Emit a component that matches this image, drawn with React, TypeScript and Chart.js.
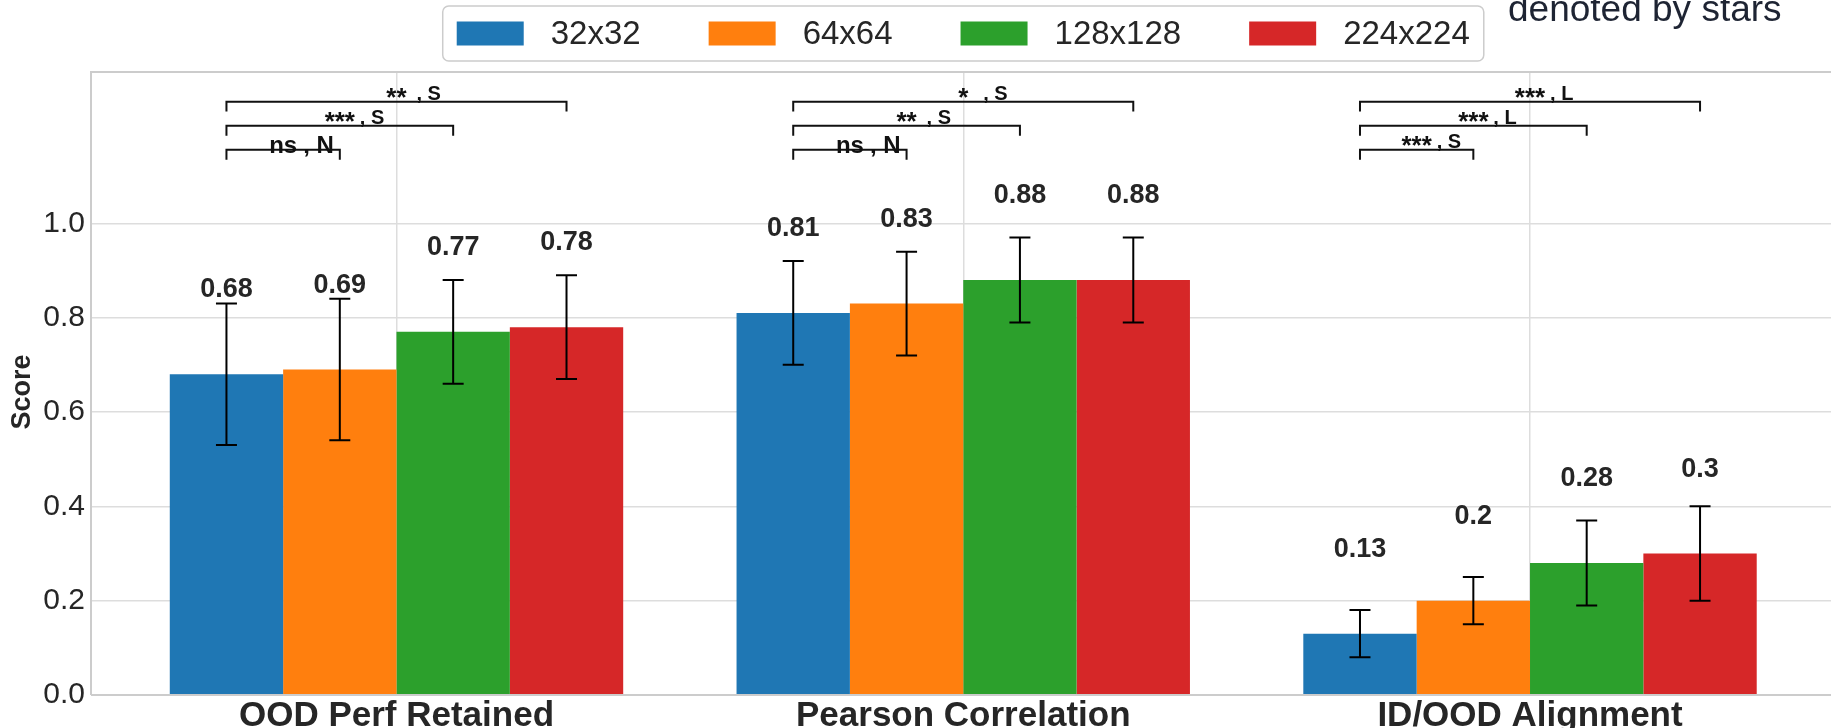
import React, { useEffect, useRef } from 'react';
import { Chart, registerables } from 'chart.js';

Chart.register(...registerables);

// Metric groups along the x axis
const categories = ['OOD Perf Retained', 'Pearson Correlation', 'ID/OOD Alignment'];
// Input resolutions (one bar series each)
const resolutions = ['32x32', '64x64', '128x128', '224x224'];

// Mean score per metric for each resolution
const score32 = [0.68, 0.81, 0.13];
const score64 = [0.69, 0.83, 0.2];
const score128 = [0.77, 0.88, 0.28];
const score224 = [0.78, 0.88, 0.3];

// Standard deviation per metric for each resolution
const std32 = [0.15, 0.11, 0.05];
const std64 = [0.15, 0.11, 0.05];
const std128 = [0.11, 0.09, 0.09];
const std224 = [0.11, 0.09, 0.1];

// Y axis tick values
const yTicks = [0, 0.2, 0.4, 0.6, 0.8, 1.0];

// Significance of 64/128/224 versus 32x32, per metric
const sigStars = [
  ['ns', '***', '**'],
  ['ns', '**', '*'],
  ['***', '***', '***'],
];
// Effect size letter (N = negligible, S = small, L = large)
const sigEffect = [
  ['N', 'S', 'S'],
  ['N', 'S', 'S'],
  ['S', 'L', 'L'],
];

const seriesScores = [score32, score64, score128, score224];
const seriesStd = [std32, std64, std128, std224];
const seriesColors = ['#1f77b4', '#ff7f0e', '#2ca02c', '#d62728'];

const FONT = '"Liberation Sans", Arial, Helvetica, sans-serif';
const TEXT = '#262626';
const SPINE = '#cccccc';
const GRID = '#dddddd';

const Y_MAX = 1.321;
const X_MIN = -0.539;
const X_MAX = 2.539;

const LABEL_LIFT = 0.163;
const BRACKET_BASE = 1.156;
const BRACKET_STEP = 0.051;
const BRACKET_DROP = 0.021;
const CAP = 10.5;

const overlayPlugin = {
  id: 'overlay',
  beforeDraw(chart: any) {
    const { ctx, width, height } = chart;
    ctx.save();
    ctx.fillStyle = '#ffffff';
    ctx.fillRect(0, 0, width, height);
    ctx.restore();
  },
  afterDatasetsDraw(chart: any) {
    const { ctx, chartArea: a } = chart;
    const y = chart.scales.y;

    // frame
    ctx.save();
    ctx.strokeStyle = SPINE;
    ctx.lineWidth = 2;
    ctx.beginPath();
    ctx.moveTo(a.left, a.bottom);
    ctx.lineTo(a.left, a.top);
    ctx.lineTo(a.right, a.top);
    ctx.lineTo(a.right, a.bottom);
    ctx.lineTo(a.left, a.bottom);
    ctx.stroke();
    ctx.restore();

    // y axis title
    ctx.save();
    ctx.translate(23, 392);
    ctx.rotate(-Math.PI / 2);
    ctx.fillStyle = TEXT;
    ctx.font = `bold 27px ${FONT}`;
    ctx.textAlign = 'center';
    ctx.textBaseline = 'middle';
    ctx.fillText('Score', 0, 0);
    ctx.restore();

    // error bars and value labels
    ctx.save();
    ctx.strokeStyle = '#000000';
    ctx.lineWidth = 2;
    ctx.fillStyle = TEXT;
    ctx.font = `bold 27px ${FONT}`;
    ctx.textAlign = 'center';
    ctx.textBaseline = 'alphabetic';
    chart.data.datasets.forEach((_: any, di: number) => {
      const meta = chart.getDatasetMeta(di);
      meta.data.forEach((bar: any, i: number) => {
        const v = seriesScores[di][i];
        const e = seriesStd[di][i];
        const x = bar.x;
        const yt = y.getPixelForValue(v + e);
        const yb = y.getPixelForValue(v - e);
        ctx.beginPath();
        ctx.moveTo(x, yt);
        ctx.lineTo(x, yb);
        ctx.moveTo(x - CAP, yt);
        ctx.lineTo(x + CAP, yt);
        ctx.moveTo(x - CAP, yb);
        ctx.lineTo(x + CAP, yb);
        ctx.stroke();
        ctx.fillText(`${v}`, x, y.getPixelForValue(v + LABEL_LIFT));
      });
    });
    ctx.restore();

    // significance brackets against the 32x32 bar
    ctx.save();
    ctx.strokeStyle = '#111111';
    ctx.fillStyle = '#111111';
    ctx.lineWidth = 2;
    const base = chart.getDatasetMeta(0);
    categories.forEach((_, ci) => {
      const x0 = base.data[ci].x;
      sigStars[ci].forEach((stars, k) => {
        const x1 = chart.getDatasetMeta(k + 1).data[ci].x;
        const by = y.getPixelForValue(BRACKET_BASE + k * BRACKET_STEP);
        const drop = y.getPixelForValue(BRACKET_BASE + k * BRACKET_STEP - BRACKET_DROP) - by;
        ctx.beginPath();
        ctx.moveTo(x0, by + drop);
        ctx.lineTo(x0, by);
        ctx.lineTo(x1, by);
        ctx.lineTo(x1, by + drop);
        ctx.stroke();

        const cx = (x0 + x1) / 2;
        const isNs = stars === 'ns';
        ctx.textBaseline = 'alphabetic';
        ctx.textAlign = 'center';
        ctx.font = `bold ${isNs ? 24 : 26}px ${FONT}`;
        ctx.fillText(stars, cx, by + (isNs ? 3 : 4));
        ctx.textAlign = 'left';
        ctx.font = `bold ${isNs ? 24 : 20}px ${FONT}`;
        ctx.fillText(`, ${sigEffect[ci][k]}`, cx + 20, by + (isNs ? 3 : -2));
      });
    });
    ctx.restore();
  },
  afterDraw(chart: any) {
    const { ctx, chartArea: a } = chart;
    ctx.save();

    // legend
    const fontSize = 33;
    const pad = 14;
    const handleW = 67;
    const handleH = 24;
    const textPad = 27;
    const colGap = 68;
    ctx.font = `${fontSize}px ${FONT}`;
    const widths = resolutions.map((r) => ctx.measureText(r).width);
    const boxW =
      2 * pad +
      resolutions.length * (handleW + textPad) +
      widths.reduce((s, w) => s + w, 0) +
      (resolutions.length - 1) * colGap;
    const boxH = 55;
    const boxL = (a.left + a.right) / 2 - boxW / 2;
    const boxT = 6;
    ctx.fillStyle = 'rgba(255,255,255,0.9)';
    ctx.strokeStyle = '#cccccc';
    ctx.lineWidth = 1.5;
    ctx.beginPath();
    ctx.roundRect(boxL, boxT, boxW, boxH, 6);
    ctx.fill();
    ctx.stroke();

    const cy = boxT + boxH / 2;
    let x = boxL + pad;
    ctx.textBaseline = 'middle';
    ctx.textAlign = 'left';
    resolutions.forEach((r, i) => {
      ctx.fillStyle = seriesColors[i];
      ctx.fillRect(x, cy - handleH / 2, handleW, handleH);
      ctx.fillStyle = TEXT;
      ctx.fillText(r, x + handleW + textPad, cy + 1);
      x += handleW + textPad + widths[i] + colGap;
    });

    // note at the top right
    ctx.fillStyle = '#1e2433';
    ctx.font = `37px ${FONT}`;
    ctx.textBaseline = 'alphabetic';
    ctx.fillText('denoted by stars', 1508, 21);
    ctx.restore();
  },
};

export default function App() {
  const canvasRef = useRef<HTMLCanvasElement>(null);

  useEffect(() => {
    const canvas = canvasRef.current;
    if (!canvas) return;

    const chart = new Chart(canvas, {
      type: 'bar',
      data: {
        datasets: resolutions.map((r, di) => ({
          label: r,
          data: seriesScores[di].map((v, i) => ({ x: i, y: v })),
          backgroundColor: seriesColors[di],
          borderWidth: 0,
          categoryPercentage: 0.8,
          barPercentage: 1.0,
        })),
      },
      options: {
        responsive: false,
        maintainAspectRatio: false,
        devicePixelRatio: 1,
        animation: false,
        events: [],
        layout: { padding: { left: 0, top: 72, right: 24.5, bottom: 0 } },
        plugins: {
          legend: { display: false },
          title: { display: false },
          tooltip: { enabled: false },
        },
        scales: {
          x: {
            type: 'linear',
            min: X_MIN,
            max: X_MAX,
            bounds: 'data',
            offset: false,
            afterBuildTicks: (axis: any) => {
              axis.ticks = categories.map((_, i) => ({ value: i }));
            },
            afterFit: (axis: any) => {
              axis.height = 65;
            },
            grid: { color: GRID, lineWidth: 1.5, drawTicks: false, offset: false },
            border: { display: false },
            ticks: {
              autoSkip: false,
              maxRotation: 0,
              minRotation: 0,
              padding: 0,
              color: TEXT,
              font: { family: FONT, size: 35, weight: 'bold' },
              callback: (v: any) => categories[Math.round(Number(v))] ?? '',
            },
          },
          y: {
            type: 'linear',
            min: 0,
            max: Y_MAX,
            bounds: 'data',
            afterBuildTicks: (axis: any) => {
              axis.ticks = yTicks.map((v) => ({ value: v }));
            },
            afterFit: (axis: any) => {
              axis.width = 91;
            },
            grid: { color: GRID, lineWidth: 1.5, drawTicks: false },
            border: { display: false },
            ticks: {
              padding: 6,
              color: TEXT,
              font: { family: FONT, size: 30 },
              callback: (v: any) => Number(v).toFixed(1),
            },
          },
        },
      },
      plugins: [overlayPlugin],
    } as any);

    return () => chart.destroy();
  }, []);

  return (
    <div
      style={{
        position: 'absolute',
        left: 0,
        top: 0,
        width: 1831,
        height: 728,
        overflow: 'hidden',
        background: '#ffffff',
      }}
    >
      <canvas
        ref={canvasRef}
        width={1860}
        height={760}
        style={{ display: 'block', width: 1860, height: 760 }}
      />
    </div>
  );
}
